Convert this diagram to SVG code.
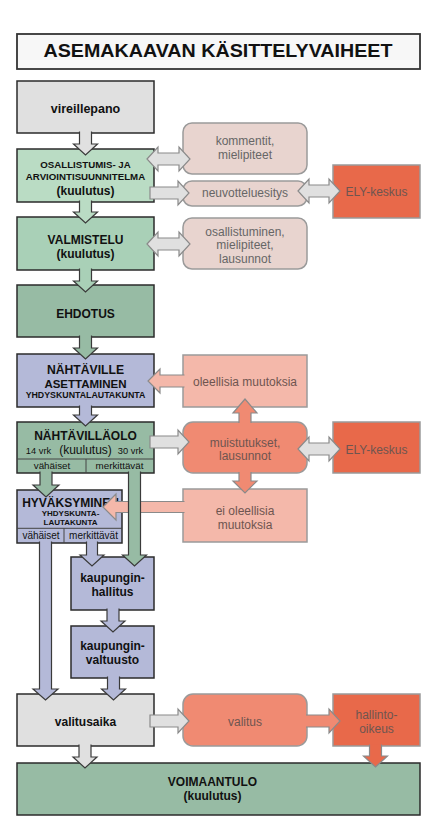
<svg xmlns="http://www.w3.org/2000/svg" width="446" height="831" viewBox="0 0 446 831">
<style>
text{font-family:"Liberation Sans",Arial,sans-serif;text-anchor:middle}
.main{stroke:#2b2b2b;stroke-width:1.5}
.side{stroke:#9a9a9a;stroke-width:1.5}
.b{font-weight:bold;fill:#111}
.t{font-size:12px;fill:#666}
.ts{font-size:12px;fill:#6e5550}
.gray{fill:#e0e0e0}
.g1{fill:#badcc4}
.g2{fill:#a9d0b7}
.g3{fill:#97bba4}
.lav{fill:#b4b9d8}
.pale{fill:#e8d4cf}
.sal1{fill:#f4b8aa}
.sal2{fill:#f08a72}
.org{fill:#e8694a}
.div{stroke:#444;stroke-width:1;fill:none}
.am{stroke:#3a3a3a;stroke-width:1.2;stroke-linejoin:miter}
.as{stroke:#8a8a8a;stroke-width:1.2;stroke-linejoin:miter}
</style>
<rect width="446" height="831" fill="#ffffff"/>
<g id="title">
<rect x="17" y="34" width="403" height="35" fill="#f7f7f7" stroke="#333" stroke-width="1.8"/>
<text x="218" y="57" class="b" font-size="19" textLength="349" lengthAdjust="spacingAndGlyphs">ASEMAKAAVAN KÄSITTELYVAIHEET</text>
</g>
<g id="nodes">
<g id="vireillepano"><rect x="17" y="81" width="137" height="52" class="main gray"/><text x="85.5" y="113" class="b" font-size="12.5">vireillepano</text></g>
<g id="osallistumis"><rect x="17" y="149" width="137" height="53" class="main g1"/><text x="85.5" y="168" class="b" font-size="9.7">OSALLISTUMIS- JA</text><text x="85.5" y="179.5" class="b" font-size="9.7">ARVIOINTISUUNNITELMA</text><text x="85.5" y="194.5" class="b" font-size="12">(kuulutus)</text></g>
<g id="valmistelu"><rect x="17" y="217" width="137" height="53" class="main g2"/><text x="85.5" y="243.5" class="b" font-size="12">VALMISTELU</text><text x="85.5" y="257.5" class="b" font-size="12">(kuulutus)</text></g>
<g id="ehdotus"><rect x="17" y="285" width="137" height="52" class="main g3"/><text x="85.5" y="317.5" class="b" font-size="12">EHDOTUS</text></g>
<g id="nahtaville"><rect x="17" y="354" width="137" height="53" class="main lav"/><text x="85.5" y="374" class="b" font-size="12.2">NÄHTÄVILLE</text><text x="85.5" y="387.5" class="b" font-size="11.5">ASETTAMINEN</text><text x="85.5" y="398.3" class="b" font-size="8.8">YHDYSKUNTALAUTAKUNTA</text></g>
<g id="nahtavillaolo"><rect x="17" y="422" width="137" height="51" class="main g3"/><text x="85.5" y="440" class="b" font-size="12">NÄHTÄVILLÄOLO</text><text x="38.5" y="454.3" font-size="9.3" fill="#111">14 vrk</text><text x="85.5" y="454" font-size="12" fill="#111">(kuulutus)</text><text x="130.5" y="454.3" font-size="9.3" fill="#111">30 vrk</text><line x1="17" y1="459" x2="154" y2="459" class="div"/><line x1="86" y1="459" x2="86" y2="473" class="div"/><text x="52" y="469.3" font-size="9.8" fill="#111">vähäiset</text><text x="119.5" y="469.3" font-size="9.8" fill="#111">merkittävät</text></g>
<g id="hyvaksyminen"><rect x="17" y="490" width="105" height="53" class="main lav"/><text x="70.5" y="506.5" class="b" font-size="12">HYVÄKSYMINEN</text><text x="70.5" y="516.3" class="b" font-size="8">YHDYSKUNTA-</text><text x="70.5" y="525.3" class="b" font-size="8">LAUTAKUNTA</text><line x1="17" y1="528.3" x2="122" y2="528.3" class="div"/><line x1="64" y1="528.3" x2="64" y2="543" class="div"/><text x="41" y="538.7" font-size="10" fill="#111">vähäiset</text><text x="93.5" y="538.7" font-size="10" fill="#111">merkittävät</text></g>
<g id="kaupunginhallitus"><rect x="71" y="557" width="83" height="53" class="main lav"/><text x="112.5" y="582" class="b" font-size="12">kaupungin-</text><text x="112.5" y="595.5" class="b" font-size="12">hallitus</text></g>
<g id="kaupunginvaltuusto"><rect x="71" y="626" width="83" height="52" class="main lav"/><text x="112.5" y="650.3" class="b" font-size="12">kaupungin-</text><text x="112.5" y="664" class="b" font-size="12">valtuusto</text></g>
<g id="valitusaika"><rect x="17" y="694" width="137" height="52" class="main gray"/><text x="85.5" y="726" class="b" font-size="12">valitusaika</text></g>
<g id="voimaantulo"><rect x="17" y="763" width="403" height="52" class="main g3"/><text x="212.5" y="786" class="b" font-size="12">VOIMAANTULO</text><text x="212.5" y="800" class="b" font-size="12">(kuulutus)</text></g>
<g id="kommentit"><rect x="183" y="123" width="124" height="51" rx="9" class="side pale"/><text x="245" y="145" class="t">kommentit,</text><text x="245" y="159" class="t">mielipiteet</text></g>
<g id="neuvotteluesitys"><rect x="183" y="181" width="124" height="25" rx="9" class="side pale"/><text x="245" y="197.3" class="t">neuvotteluesitys</text></g>
<g id="ely1"><rect x="333" y="165" width="87" height="53" class="side org"/><text x="376.5" y="196" class="ts">ELY-keskus</text></g>
<g id="osallistuminen"><rect x="183" y="218" width="124" height="51" rx="9" class="side pale"/><text x="245" y="235.5" class="t">osallistuminen,</text><text x="245" y="249.3" class="t">mielipiteet,</text><text x="245" y="263" class="t">lausunnot</text></g>
<g id="oleellisia"><rect x="183" y="355" width="124" height="52" class="side sal1"/><text x="245" y="386" class="ts">oleellisia muutoksia</text></g>
<g id="muistutukset"><rect x="183" y="422" width="124" height="51" rx="10" class="side sal2"/><text x="245" y="446.7" class="ts">muistutukset,</text><text x="245" y="460.3" class="ts">lausunnot</text></g>
<g id="ely2"><rect x="333" y="422" width="87" height="51" class="side org"/><text x="376.5" y="454" class="ts">ELY-keskus</text></g>
<g id="eioleellisia"><rect x="183" y="489" width="124" height="53" class="side sal1"/><text x="245" y="515" class="ts">ei oleellisia</text><text x="245" y="528.5" class="ts">muutoksia</text></g>
<g id="valitus"><rect x="183" y="694" width="124" height="52" rx="10" class="side sal2"/><text x="245" y="726" class="ts">valitus</text></g>
<g id="hallinto-oikeus"><rect x="333" y="694" width="87" height="52" class="side org"/><text x="376.5" y="719.3" class="ts">hallinto-</text><text x="376.5" y="733.3" class="ts">oikeus</text></g>
</g>
<g id="connectors">
<path class="am gray" d="M79.5,131.5 V144 H73.5 L85.5,155 L97.5,144 H91.5 V131.5"/>
<path class="am g1" d="M79.5,200.5 V212 H73.5 L85.5,223 L97.5,212 H91.5 V200.5"/>
<path class="am g2" d="M79.5,268.5 V281 H73.5 L85.5,292 L97.5,281 H91.5 V268.5"/>
<path class="am g3" d="M79.5,335.5 V348 H73.5 L85.5,359 L97.5,348 H91.5 V335.5"/>
<path class="am lav" d="M79.5,405.5 V415 H73.5 L85.5,426 L97.5,415 H91.5 V405.5"/>
<path class="as gray" d="M147,159 L158,147 V153 H179 V147 L190,159 L179,171 V165 H158 V171 Z"/>
<path class="as gray" d="M150,187 H178 V181 L189,193 L178,205 V199 H150 Z"/>
<path class="as gray" d="M298,191 L309,179 V185 H329 V179 L340,191 L329,203 V197 H309 V203 Z"/>
<path class="as gray" d="M147,244 L158,232 V238 H179 V232 L190,244 L179,256 V250 H158 V256 Z"/>
<path class="as sal1" d="M184.5,375 H160 V369 L148,381 L160,393 V387 H184.5"/>
<path class="as gray" d="M150,436 H178 V430 L189,442 L178,454 V448 H150 Z"/>
<path class="as gray" d="M298,449 L309,437 V443 H329 V437 L340,449 L329,461 V455 H309 V461 Z"/>
<path class="as sal2" d="M239,423 V413 H233 L245,399 L257,413 H251 V423"/>
<path class="as sal2" d="M239,472 V481 H233 L245,493 L257,481 H251 V472"/>
<path class="as sal1" d="M184.5,501.5 H116 V494 L103,507 L116,520 V512.5 H184.5"/>
<path class="am g3" d="M40,471.5 V485 H33 L46,497 L59,485 H52 V471.5"/>
<path class="am g3" d="M128.5,471.5 V555 H122.5 L134.5,566 L146.5,555 H140.5 V471.5"/>
<path class="am lav" d="M39.5,541.5 V689 H33 L45.5,700 L58,689 H51.5 V541.5"/>
<path class="am lav" d="M86.5,541.5 V555 H80 L92,566 L104,555 H97.5 V541.5"/>
<path class="am lav" d="M107,608.5 V621 H101 L113,632 L125,621 H119 V608.5"/>
<path class="am lav" d="M107.5,676.5 V689 H101.5 L113.5,700 L125.5,689 H119.5 V676.5"/>
<path class="as gray" d="M150,715 H178 V709 L189,721 L178,733 V727 H150 Z"/>
<path class="as sal2" d="M306,715 H329 V709 L340,721 L329,733 V727 H306"/>
<path class="am gray" d="M79,744.5 V757 H73 L85,768 L97,757 H91 V744.5"/>
<path class="as org" d="M369.5,744.5 V756 H363.5 L375.5,767 L387.5,756 H381.5 V744.5"/>
</g>
</svg>
